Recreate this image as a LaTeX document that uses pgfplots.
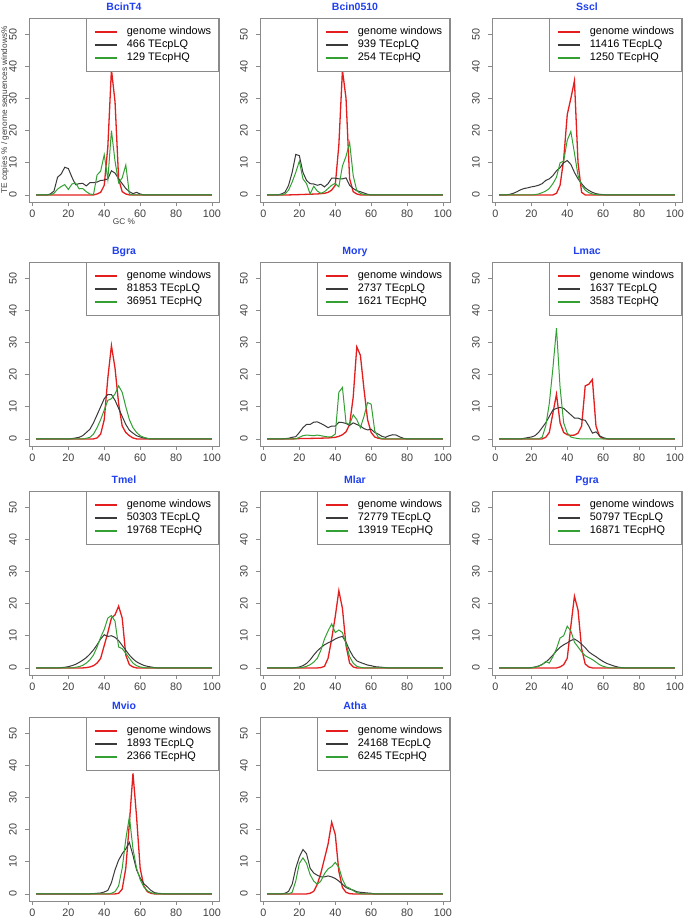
\documentclass[border=0pt]{standalone}
\usepackage{fontspec}
\setmainfont{Liberation Sans}
\usepackage{pgfplots}
\pgfplotsset{compat=1.18}
\definecolor{cRed}{HTML}{E41E1E}
\definecolor{cBlk}{HTML}{3A3A3A}
\definecolor{cGrn}{HTML}{34A034}
\definecolor{cBox}{HTML}{8A8A8A}
\definecolor{cTxt}{HTML}{404040}
\definecolor{cTitle}{HTML}{2040F0}
\newcommand\fs[1]{\fontsize{#1}{#1}\selectfont}

\pgfplotsset{
  every axis title/.style={at={(0.5,1)}, anchor=base, yshift=8pt,
    font=\bfseries\fs{10.5}, text=cTitle},
  panel/.style={
    scale only axis, width=190pt, height=184pt, anchor=north west,
    xmin=-1.92, xmax=103.92, ymin=-2.2, ymax=55,
    xtick={0,20,...,100}, ytick={0,10,...,50},
    axis line style={cBox, line width=0.8pt},
    tick style={cBox, line width=0.8pt},
    tick align=outside, major tick length=4pt,
    xtick pos=bottom, ytick pos=left,
    tick label style={font=\fs{10.8}, text=cTxt},
    /pgf/number format/assume math mode=true,
    xticklabel style={anchor=north, inner sep=0pt, yshift=-3.5pt},
    yticklabel style={rotate=90, anchor=south, inner xsep=0pt, inner ysep=8pt},
    legend style={at={(1,1)}, anchor=north east, draw=cBox, line width=0.8pt, fill=white,
      font=\fs{10.9}, inner xsep=7.5pt, inner ysep=8pt, row sep=2.5pt, column sep=9pt,
      nodes={inner sep=0pt, text height=8pt, text depth=2.5pt}},
    legend cell align=left,
    legend image code/.code={\draw[##1, line width=2.2pt] (0pt,0pt) -- (22pt,0pt);},
  },
  gw/.style={cRed, line width=1.3pt},
  lq/.style={cBlk, line width=1pt},
  hq/.style={cGrn, line width=1pt},
}

\begin{document}
\begin{tikzpicture}
\path[use as bounding box, fill=white] (0pt,0pt) rectangle (685pt,-918pt);

% row 1
\begin{axis}[panel, at={(29pt,-18pt)}, title={BcinT4},
  ylabel={TE copies \% / genome sequences windows\%}, xlabel={GC \%},
  label style={font=\fs{8.3}, text=cTxt},
  ylabel style={at={([xshift=-24pt]axis description cs:0,0.5)}, anchor=center},
  xlabel style={at={([yshift=-20pt]axis description cs:0.5,0)}, anchor=center}]
\addplot[gw] coordinates {(2,0)(34,0)(36,0.3)(38,0.8)(40,3)(42,15)(44,39)(46,29)(48,5)(50,1)(52,0.3)(54,0)(100,0)};
\addplot[lq] coordinates {(2,0)(8,0)(10,0.3)(12,1.2)(14,5.5)(16,6.5)(18,8.6)(20,8.2)(22,5.5)(24,3.2)(26,3.5)(28,3.6)(30,2.8)(32,3.8)(34,3.8)(36,4.0)(38,4.5)(40,4.6)(42,5.0)(44,7.5)(46,6.8)(48,5.0)(50,3.5)(52,2.0)(54,1.0)(56,0.4)(58,0.8)(60,0.3)(62,0)(100,0)};
\addplot[hq] coordinates {(2,0)(10,0)(12,0.5)(14,1.8)(16,2.6)(18,3.2)(20,1.7)(22,3.4)(24,3.7)(26,1.9)(28,2.0)(30,1.0)(32,0.3)(34,0.1)(36,6.2)(38,7.4)(40,12.5)(42,4.8)(44,20)(46,10.5)(48,3.8)(50,5.3)(52,9.3)(54,0.3)(56,0)(100,0)};
\legend{genome windows, 466 TEcpLQ, 129 TEcpHQ}
\end{axis}

\begin{axis}[panel, at={(260pt,-18pt)}, title={Bcin0510}]
\addplot[gw] coordinates {(2,0)(14,0)(20,0.1)(30,0.3)(34,0.5)(36,0.8)(38,1.5)(40,3)(42,15.5)(44,38.8)(46,30)(48,5)(50,1)(52,0.3)(54,0)(100,0)};
\addplot[lq] coordinates {(2,0)(8,0)(10,0.3)(12,0.8)(14,3)(16,7)(18,12.6)(20,12.2)(22,7)(24,4.5)(26,3.5)(28,3.4)(30,3)(32,3.3)(34,2.5)(36,3.5)(38,5.2)(40,5.2)(42,5.0)(44,5.0)(46,5.3)(48,3.0)(50,2)(52,1.3)(54,1)(56,0.6)(58,0.2)(60,0)(100,0)};
\addplot[hq] coordinates {(2,0)(10,0)(12,0.3)(14,1.5)(16,4)(18,7)(20,10.5)(22,5)(24,3.5)(26,0.3)(28,2.7)(30,1.2)(32,0.5)(34,1.0)(36,2)(38,3.0)(40,3.6)(42,2.5)(44,9)(46,12)(48,16.3)(50,6)(52,1.3)(54,0.5)(56,0.1)(58,0)(100,0)};
\legend{genome windows, 939 TEcpLQ, 254 TEcpHQ}
\end{axis}

\begin{axis}[panel, at={(492pt,-18pt)}, title={Sscl}]
\addplot[gw] coordinates {(2,0)(32,0)(34,0.5)(36,3)(38,11)(40,25)(42,30)(44,35.5)(46,10)(48,0.8)(50,0)(100,0)};
\addplot[lq] coordinates {(2,0)(6,0)(8,0.2)(10,0.5)(12,1)(14,1.6)(16,2.0)(18,2.2)(20,2.5)(22,2.7)(24,3.0)(26,3.5)(28,4.5)(30,5)(32,6)(34,7.5)(36,8.5)(38,10)(40,10.7)(42,9.5)(44,7)(46,5)(48,3.5)(50,2.2)(52,1.4)(54,0.8)(56,0.4)(58,0.2)(60,0.1)(62,0)(100,0)};
\addplot[hq] coordinates {(2,0)(20,0)(22,0.1)(24,0.3)(26,0.7)(28,1.2)(30,2)(32,3.5)(34,5.5)(36,10)(38,10.5)(40,17)(42,19.7)(44,13)(46,6)(48,3)(50,1.5)(52,0.7)(54,0.3)(56,0.1)(58,0)(100,0)};
\legend{genome windows, 11416 TEcpLQ, 1250 TEcpHQ}
\end{axis}

% row 2
\begin{axis}[panel, at={(29pt,-262pt)}, title={Bgra}]
\addplot[gw] coordinates {(2,0)(34,0)(36,0.3)(38,1.5)(40,6)(42,19)(44,29)(46,22)(48,11)(50,4)(52,2)(54,1)(56,0.3)(58,0)(100,0)};
\addplot[lq] coordinates {(2,0)(20,0)(22,0.1)(24,0.3)(26,0.5)(28,1)(30,2)(32,3)(34,5)(36,7.5)(38,10)(40,12.5)(42,13.8)(44,13.8)(46,12)(48,9.5)(50,7)(52,4.5)(54,2.7)(56,1.8)(58,1)(60,0.6)(62,0.3)(64,0.1)(66,0)(100,0)};
\addplot[hq] coordinates {(2,0)(28,0)(30,0.2)(32,0.5)(34,1.5)(36,3.5)(38,6)(40,9)(42,12)(44,12.5)(46,14)(48,16.5)(50,14.5)(52,10)(54,6)(56,3.5)(58,2)(60,1)(62,0.5)(64,0.2)(66,0)(100,0)};
\legend{genome windows, 81853 TEcpLQ, 36951 TEcpHQ}
\end{axis}

\begin{axis}[panel, at={(260pt,-262pt)}, title={Mory}]
\addplot[gw] coordinates {(2,0)(16,0)(20,0.1)(30,0.2)(36,0.3)(40,0.5)(42,0.8)(44,1.3)(46,2.2)(48,4.5)(50,13)(52,28.6)(54,26)(56,15.5)(58,6)(60,2)(62,0.6)(64,0.2)(66,0)(100,0)};
\addplot[lq] coordinates {(2,0)(10,0)(14,0.2)(16,0.5)(18,0.7)(20,2)(22,3.5)(24,4.5)(26,4.5)(28,5.2)(30,5.3)(32,4.8)(34,4.2)(36,3.5)(38,4)(40,4.0)(42,5.2)(44,5.1)(46,4.8)(48,4.2)(50,5)(52,4.5)(54,4.0)(56,3.2)(58,2.8)(60,3)(62,2)(64,1.5)(66,0.8)(68,0.5)(70,1)(72,1.3)(74,1.2)(76,0.6)(78,0.2)(80,0)(100,0)};
\addplot[hq] coordinates {(2,0)(18,0)(20,0.5)(22,1)(24,1.2)(26,1.1)(28,1.0)(30,1.2)(32,1.0)(34,0.8)(36,0.6)(38,0.7)(40,1.5)(42,14.5)(44,16)(46,5)(48,4.5)(50,7.5)(52,6)(54,3.5)(56,7)(58,11.3)(60,10.8)(62,2.5)(64,0.5)(66,0.1)(68,0)(100,0)};
\legend{genome windows, 2737 TEcpLQ, 1621 TEcpHQ}
\end{axis}

\begin{axis}[panel, at={(492pt,-262pt)}, title={Lmac}]
\addplot[gw] coordinates {(2,0)(26,0)(28,0.5)(30,2)(32,8)(34,13.9)(36,5)(38,2)(40,1.3)(42,1.1)(44,1.2)(46,1.8)(48,4)(50,16.5)(52,17)(54,18.5)(56,4)(58,0.8)(60,0.1)(62,0)(100,0)};
\addplot[lq] coordinates {(2,0)(14,0)(16,0.2)(18,0.4)(20,0.6)(22,1)(24,2)(26,3.5)(28,5)(30,7)(32,9)(34,9.5)(36,9.8)(38,9.5)(40,8.5)(42,7.5)(44,6.5)(46,6.5)(48,6)(50,5.8)(52,4)(54,1.8)(56,2.2)(58,1)(60,0.4)(62,0.1)(64,0)(100,0)};
\addplot[hq] coordinates {(2,0)(24,0)(26,0.5)(28,4)(30,11)(32,22)(34,34.4)(36,16)(38,5)(40,1.8)(42,0.6)(44,0.3)(46,0.1)(48,0)(100,0)};
\legend{genome windows, 1637 TEcpLQ, 3583 TEcpHQ}
\end{axis}

% row 3
\begin{axis}[panel, at={(29pt,-491pt)}, title={Tmel}]
\addplot[gw] coordinates {(2,0)(28,0)(30,0.1)(32,0.3)(34,0.7)(36,1.5)(38,3)(40,7)(42,11)(44,15.5)(46,16.5)(48,19.2)(50,15.5)(52,4)(54,1)(56,0.3)(58,0)(100,0)};
\addplot[lq] coordinates {(2,0)(14,0)(18,0.2)(20,0.4)(22,0.7)(24,1.1)(26,1.7)(28,2.4)(30,3.2)(32,4.3)(34,5.6)(36,7.2)(38,9)(40,10.3)(42,9.8)(44,10)(46,9.5)(48,8.5)(50,7)(52,5.5)(54,4)(56,2.8)(58,1.9)(60,1.3)(62,0.8)(64,0.5)(66,0.3)(68,0.1)(70,0)(100,0)};
\addplot[hq] coordinates {(2,0)(22,0)(24,0.2)(26,0.4)(28,0.8)(30,1.5)(32,2.5)(34,4)(36,6.5)(38,9.5)(40,12)(42,15.5)(44,16.3)(46,14.5)(48,6.5)(50,6)(52,4.5)(54,3)(56,1.5)(58,0.7)(60,0.3)(62,0.1)(64,0)(100,0)};
\legend{genome windows, 50303 TEcpLQ, 19768 TEcpHQ}
\end{axis}

\begin{axis}[panel, at={(260pt,-491pt)}, title={Mlar}]
\addplot[gw] coordinates {(2,0)(30,0)(32,0.1)(34,0.5)(36,3)(38,9)(40,16)(42,24)(44,18.5)(46,7)(48,1.5)(50,0.3)(52,0)(100,0)};
\addplot[lq] coordinates {(2,0)(16,0)(18,0.1)(20,0.3)(22,0.7)(24,1.4)(26,2.5)(28,4)(30,5.3)(32,6.3)(34,7.2)(36,7.8)(38,8.3)(40,9)(42,9.5)(44,9.8)(46,8)(48,5.5)(50,3.5)(52,2.2)(54,1.7)(56,1.3)(58,0.9)(60,0.7)(62,0.4)(64,0.3)(66,0.2)(68,0.1)(70,0)(100,0)};
\addplot[hq] coordinates {(2,0)(20,0)(22,0.2)(24,0.5)(26,1)(28,1.8)(30,3)(32,5.5)(34,9)(36,11.5)(38,13.7)(40,11)(42,11.8)(44,11)(46,7.5)(48,3.5)(50,1.5)(52,0.5)(54,0.2)(56,0)(100,0)};
\legend{genome windows, 72779 TEcpLQ, 13919 TEcpHQ}
\end{axis}

\begin{axis}[panel, at={(492pt,-491pt)}, title={Pgra}]
\addplot[gw] coordinates {(2,0)(34,0)(36,0.3)(38,1)(40,3)(42,13)(44,22.3)(46,18)(48,6)(50,1.2)(52,0.3)(54,0)(100,0)};
\addplot[lq] coordinates {(2,0)(18,0)(20,0.1)(22,0.3)(24,0.6)(26,1.1)(28,1.8)(30,2.8)(32,4)(34,5.3)(36,6.4)(38,7.2)(40,7.8)(42,8.5)(44,9)(46,8.3)(48,7.4)(50,6.3)(52,5)(54,4.2)(56,3.5)(58,2.7)(60,2)(62,1.4)(64,1)(66,0.6)(68,0.3)(70,0.1)(72,0)(100,0)};
\addplot[hq] coordinates {(2,0)(20,0)(22,0.2)(24,0.5)(26,1)(28,2)(30,1.5)(32,3.5)(34,6)(36,9.3)(38,10)(40,13)(42,11.5)(44,8)(46,6.5)(48,5)(50,3.8)(52,3.2)(54,2.6)(56,1.8)(58,1)(60,0.5)(62,0.2)(64,0)(100,0)};
\legend{genome windows, 50797 TEcpLQ, 16871 TEcpHQ}
\end{axis}

% row 4
\begin{axis}[panel, at={(29pt,-717pt)}, title={Mvio}]
\addplot[gw] coordinates {(2,0)(46,0)(48,0.2)(50,1.5)(52,8)(54,22)(56,37.5)(58,24)(60,8)(62,2.5)(64,0.7)(66,0.2)(68,0)(100,0)};
\addplot[lq] coordinates {(2,0)(30,0)(34,0.1)(36,0.2)(38,0.3)(40,0.6)(42,1.1)(44,3.5)(46,7.5)(48,10.5)(50,12.5)(52,14)(54,16)(56,12)(58,7.5)(60,5)(62,3.2)(64,2.2)(66,1.1)(68,0.4)(70,0.2)(72,0.1)(74,0)(100,0)};
\addplot[hq] coordinates {(2,0)(42,0)(44,0.2)(46,0.7)(48,2.5)(50,8)(52,17)(54,24)(56,14)(58,8)(60,4.5)(62,2.2)(64,1)(66,0.4)(68,0.1)(70,0)(100,0)};
\legend{genome windows, 1893 TEcpLQ, 2366 TEcpHQ}
\end{axis}

\begin{axis}[panel, at={(260pt,-717pt)}, title={Atha}]
\addplot[gw] coordinates {(2,0)(24,0)(26,0.2)(28,0.8)(30,3)(32,6.5)(34,11)(36,15.5)(38,22.3)(40,18.5)(42,7)(44,2)(46,0.5)(48,0.1)(50,0)(100,0)};
\addplot[lq] coordinates {(2,0)(10,0)(12,0.2)(14,0.8)(16,3)(18,8)(20,11.5)(22,13.8)(24,12.5)(26,8)(28,6.5)(30,5.8)(32,5.3)(34,5.3)(36,5.6)(38,5.3)(40,4.8)(42,4)(44,3)(46,2)(48,1.5)(50,1.2)(52,0.7)(54,0.5)(56,0.4)(58,0.3)(60,0.2)(62,0)(100,0)};
\addplot[hq] coordinates {(2,0)(14,0)(16,0.5)(18,4)(20,9.5)(22,11.2)(24,9.5)(26,6)(28,4)(30,3)(32,4)(34,6.3)(36,7.8)(38,8.5)(40,9.8)(42,8.3)(44,4.5)(46,2.3)(48,1.8)(50,1)(52,0.4)(54,0.1)(56,0)(100,0)};
\legend{genome windows, 24168 TEcpLQ, 6245 TEcpHQ}
\end{axis}
\end{tikzpicture}
\end{document}
